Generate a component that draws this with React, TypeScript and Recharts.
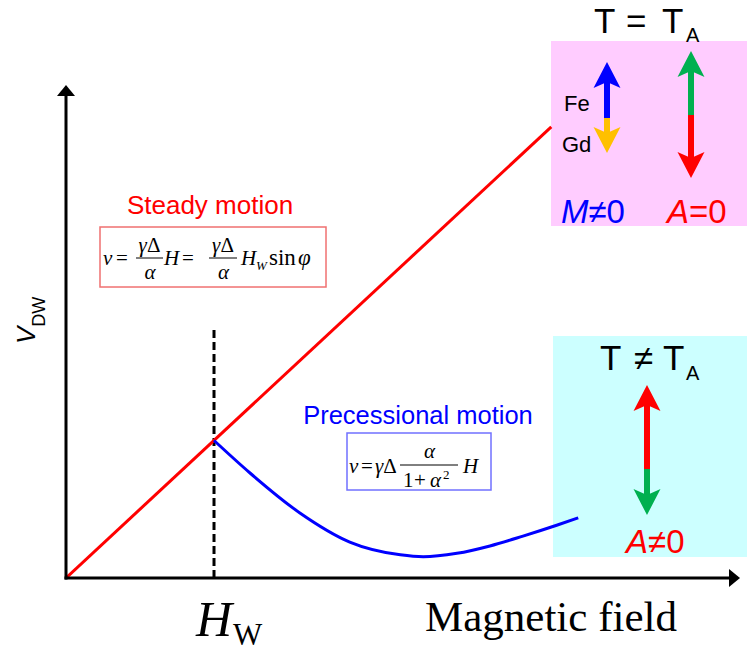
import React from 'react';
import { ComposedChart, Line, XAxis, YAxis, ReferenceLine, Customized } from 'recharts';

// ---- data (abstract units: magnetic field H, domain-wall velocity v) ----
const steadyH = [0, 7.2];
const steadyV = [0, 9.15];
const walkerField = 2.196;
const walkerLineTop = 5.07;
const precessH = [2.196, 2.73, 3.47, 4.21, 4.96, 5.3, 5.8, 6.29, 6.78, 7.28, 7.6];
const precessV = [2.79, 2.13, 1.32, 0.73, 0.47, 0.43, 0.5, 0.65, 0.85, 1.07, 1.22];
const axisMax = 10;

const steadyData = steadyH.map((h, i) => ({ h, v: steadyV[i] }));
const precessData = precessH.map((h, i) => ({ h, v: precessV[i] }));

const sans = '"Liberation Sans", Arial, sans-serif';
const serif = '"Liberation Serif", "Times New Roman", serif';

const RED = '#ff0000';
const BLUE = '#0000ff';
const GREEN = '#00b050';
const YELLOW = '#ffc000';

function AxisArrow(props: any) {
  const { x1, y1, x2, y2 } = props;
  const dx = x2 - x1;
  const dy = y2 - y1;
  const len = Math.hypot(dx, dy) || 1;
  const ux = dx / len;
  const uy = dy / len;
  const headL = 11;
  const headW = 9;
  const bx = x2 - ux * headL;
  const by = y2 - uy * headL;
  const px = -uy;
  const py = ux;
  return (
    <g>
      <line x1={x1 - ux * 1.5} y1={y1 - uy * 1.5} x2={bx + ux * 2} y2={by + uy * 2} stroke="#000" strokeWidth={3} />
      <polygon
        points={`${x2},${y2} ${bx + px * headW},${by + py * headW} ${bx - px * headW},${by - py * headW}`}
        fill="#000"
      />
    </g>
  );
}

function head(x: number, tip: number, dir: number, color: string) {
  // dir = -1 pointing up, +1 pointing down
  const L = 26;
  const W = 13.5;
  const notch = 20;
  const by = tip - dir * L;
  const ny = tip - dir * notch;
  return <polygon points={`${x},${tip} ${x - W},${by} ${x},${ny} ${x + W},${by}`} fill={color} />;
}

function shaft(x: number, yA: number, yB: number, color: string) {
  return <line x1={x} y1={yA} x2={x} y2={yB} stroke={color} strokeWidth={6} />;
}

function BoxesLayer() {
  return (
    <g>
      <rect x={551} y={41} width={196} height={185} fill="#ffccff" />
      <rect x={553} y={336} width={194} height={221} fill="#ccffff" />
    </g>
  );
}

function AnnotationsLayer() {
  return (
    <g>
      {/* Pink box content */}
      <text x={594} y={33} fontFamily={sans} fontSize={35} fill="#000">T</text>
      <text x={626} y={33} fontFamily={sans} fontSize={35} fill="#000">=</text>
      <text x={662} y={33} fontFamily={sans} fontSize={35} fill="#000">T</text>
      <text x={686} y={42} fontFamily={sans} fontSize={20} fill="#000">A</text>

      {shaft(607, 118, 78, BLUE)}
      {head(607, 62, -1, BLUE)}
      {shaft(607, 118, 136, YELLOW)}
      {head(607, 153, 1, YELLOW)}
      <text x={564} y={111} fontFamily={sans} fontSize={22} fill="#000">Fe</text>
      <text x={562} y={152} fontFamily={sans} fontSize={22} fill="#000">Gd</text>

      {shaft(691, 115, 68, GREEN)}
      {head(691, 51, -1, GREEN)}
      {shaft(691, 115, 162, RED)}
      {head(691, 178, 1, RED)}

      <text x={561} y={223} fontFamily={sans} fontSize={33} fill={BLUE}>
        <tspan fontStyle="italic">M</tspan>
        <tspan>≠0</tspan>
      </text>
      <text x={667} y={223} fontFamily={sans} fontSize={33} fill={RED}>
        <tspan fontStyle="italic">A</tspan>
        <tspan>=0</tspan>
      </text>

      {/* Cyan box content */}
      <text x={600} y={370} fontFamily={sans} fontSize={35} fill="#000">T</text>
      <text x={634} y={370} fontFamily={sans} fontSize={35} fill="#000">≠</text>
      <text x={663} y={370} fontFamily={sans} fontSize={35} fill="#000">T</text>
      <text x={686} y={380} fontFamily={sans} fontSize={20} fill="#000">A</text>

      {shaft(647, 469, 401, RED)}
      {head(647, 385, -1, RED)}
      {shaft(647, 469, 499, GREEN)}
      {head(647, 515, 1, GREEN)}

      <text x={626} y={553} fontFamily={sans} fontSize={33} fill={RED}>
        <tspan fontStyle="italic">A</tspan>
        <tspan>≠0</tspan>
      </text>

      {/* Steady motion */}
      <text x={210} y={214} textAnchor="middle" fontFamily={sans} fontSize={26} fill={RED}>Steady motion</text>
      <rect x={100} y={227} width={226} height={60} fill="#fff" stroke="#f07070" strokeWidth={1.5} />
      <g fontFamily={serif} fontSize={21} fill="#000">
        <text x={103} y={265} fontStyle="italic">v</text>
        <text x={116} y={265}>=</text>
        <text x={149.5} y={252} textAnchor="middle"><tspan fontStyle="italic">γ</tspan>Δ</text>
        <line x1={136} y1={258} x2={163} y2={258} stroke="#000" strokeWidth={1} />
        <text x={150} y={279} textAnchor="middle" fontStyle="italic">α</text>
        <text x={164} y={265} fontStyle="italic">H</text>
        <text x={182} y={265}>=</text>
        <text x={223} y={252} textAnchor="middle"><tspan fontStyle="italic">γ</tspan>Δ</text>
        <line x1={209} y1={258} x2={237} y2={258} stroke="#000" strokeWidth={1} />
        <text x={223.5} y={279} textAnchor="middle" fontStyle="italic">α</text>
        <text x={241} y={265} fontStyle="italic">H</text>
        <text x={256} y={270} fontStyle="italic" fontSize={13}>W</text>
        <text x={269} y={265} fontSize={23}>sin</text>
        <text x={298} y={265} fontStyle="italic" fontSize={23}>φ</text>
      </g>

      {/* Precessional motion */}
      <text x={418} y={424} textAnchor="middle" fontFamily={sans} fontSize={25.5} fill={BLUE}>Precessional motion</text>
      <rect x={347} y={433} width={144} height={57} fill="#fff" stroke="#7070ff" strokeWidth={1.5} />
      <g fontFamily={serif} fontSize={21} fill="#000">
        <text x={349} y={473} fontStyle="italic">v</text>
        <text x={361} y={473}>=</text>
        <text x={375} y={473}><tspan fontStyle="italic">γ</tspan>Δ</text>
        <line x1={400} y1={465} x2={458} y2={465} stroke="#000" strokeWidth={1} />
        <text x={429.5} y={458} textAnchor="middle" fontStyle="italic">α</text>
        <text x={403} y={487}>1</text>
        <text x={414} y={487}>+</text>
        <text x={430} y={487} fontStyle="italic">α</text>
        <text x={443} y={479} fontSize={13}>2</text>
        <text x={463} y={473} fontStyle="italic">H</text>
      </g>

      {/* Axis labels */}
      <text transform="translate(35,344) rotate(-90)" fontFamily={sans} fill="#000">
        <tspan fontSize={26} fontStyle="italic">V</tspan>
        <tspan fontSize={18} dy={10}>DW</tspan>
      </text>
      <text x={196} y={636} fontFamily={serif} fontSize={50} fontStyle="italic" fill="#000">H</text>
      <text x={233} y={645} fontFamily={serif} fontSize={31} fill="#000">W</text>
      <text x={425} y={631} fontFamily={serif} fontSize={43} fill="#000">Magnetic field</text>
    </g>
  );
}

export default function App() {
  return (
    <div style={{ position: 'absolute', left: 0, top: 0, width: 751, height: 653, background: '#fff' }}>
      <ComposedChart width={751} height={653} margin={{ top: 85, right: 11, bottom: 75, left: 66 }}>
        <XAxis type="number" dataKey="h" domain={[0, axisMax]} hide allowDataOverflow />
        <YAxis type="number" dataKey="v" domain={[0, axisMax]} hide allowDataOverflow />
        <Customized component={BoxesLayer} />
        <ReferenceLine
          segment={[{ x: walkerField, y: 0 }, { x: walkerField, y: walkerLineTop }]}
          stroke="#000"
          strokeWidth={3}
          strokeDasharray="8 4"
          ifOverflow="visible"
        />
        <Line
          data={steadyData}
          dataKey="v"
          type="linear"
          stroke={RED}
          strokeWidth={3}
          dot={false}
          activeDot={false}
          isAnimationActive={false}
        />
        <Line
          data={precessData}
          dataKey="v"
          type="monotone"
          stroke={BLUE}
          strokeWidth={3}
          dot={false}
          activeDot={false}
          isAnimationActive={false}
        />
        <ReferenceLine segment={[{ x: 0, y: 0 }, { x: axisMax, y: 0 }]} shape={AxisArrow} ifOverflow="visible" />
        <ReferenceLine segment={[{ x: 0, y: 0 }, { x: 0, y: axisMax }]} shape={AxisArrow} ifOverflow="visible" />
        <Customized component={AnnotationsLayer} />
      </ComposedChart>
    </div>
  );
}
